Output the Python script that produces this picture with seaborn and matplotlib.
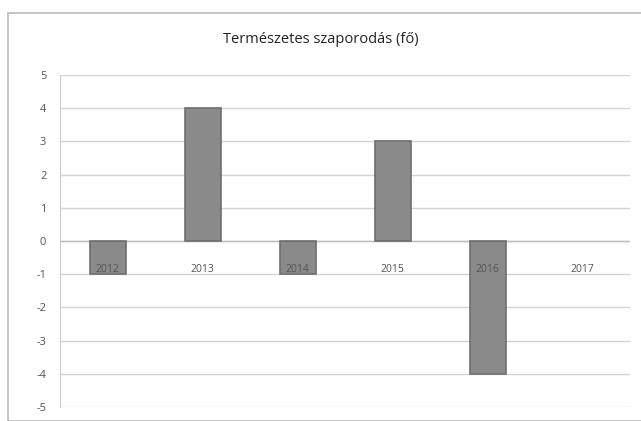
import matplotlib
matplotlib.use("Agg")
import matplotlib.pyplot as plt
import matplotlib.patches as mpatches
import pandas as pd
import seaborn as sns

# data
years = ["2012", "2013", "2014", "2015", "2016", "2017"]
values = [-1, 4, -1, 3, -4, 0]
title = "Természetes szaporodás (fő)"

sns.set_style("white")
plt.rcParams['font.family'] = ['Open Sans', 'DejaVu Sans']
plt.rcParams['axes.unicode_minus'] = False

df = pd.DataFrame({'year': years, 'value': values})

fig = plt.figure(figsize=(6.41, 4.21), dpi=100)
ax = fig.add_axes([0.094, 0.033, 0.889, 0.789])

sns.barplot(data=df, x='year', y='value', color='#8a8a8a', width=0.38,
            edgecolor='#6e6e6e', linewidth=1.2, saturation=1, ax=ax, zorder=3)
# a zero bar leaves no visible mark in the original
for p in ax.patches:
    if p.get_height() == 0:
        p.set_linewidth(0)

ax.set_ylim(-5, 5)
ax.set_xlim(-0.5, len(years) - 0.5)
ax.set_yticks(range(-5, 6))
ax.tick_params(axis='y', labelsize=8, colors='#555555', length=0, pad=10)
ax.set_xticks([])
ax.set_xlabel('')
ax.set_ylabel('')
ax.yaxis.grid(True, color='#d4d4d4', linewidth=1)
ax.set_axisbelow(True)
for side in ['top', 'right', 'bottom']:
    ax.spines[side].set_visible(False)
ax.spines['left'].set_color('#cccccc')
ax.axhline(0, color='#bdbdbd', linewidth=1, zorder=2)

# category labels sit just under the zero line (Excel style)
for i, yr in enumerate(years):
    ax.text(i, -0.85, yr, ha='center', va='center', fontsize=7.5,
            color='#555555', zorder=4)

fig.text(0.5, 0.905, title, ha='center', va='center', fontsize=10.5,
         color='#222222')

fig.patches.append(mpatches.Rectangle((0.012, 0.0), 0.99, 0.97,
                                      transform=fig.transFigure, fill=False,
                                      edgecolor='#bbbbbb', linewidth=1.2))

fig.savefig('out.png', dpi=100)
